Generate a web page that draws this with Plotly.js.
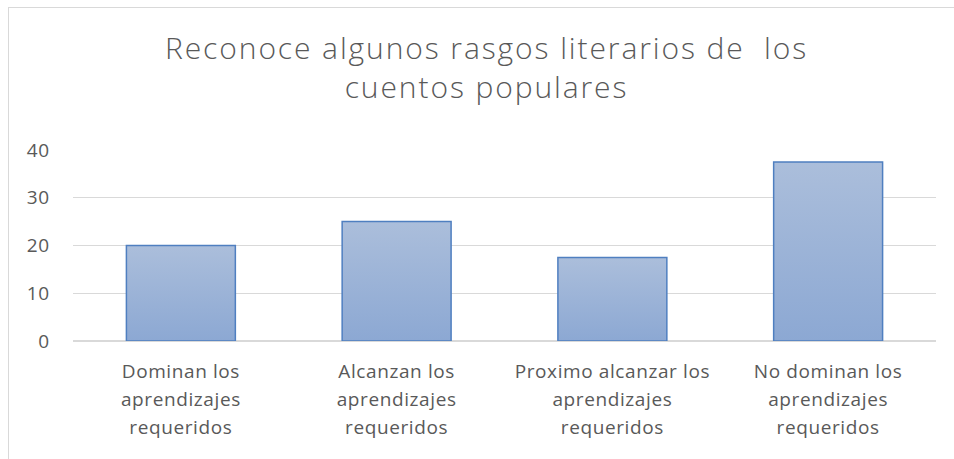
<!DOCTYPE html>
<html><head><meta charset="utf-8">
<script src="https://cdn.plot.ly/plotly-3.0.1.min.js"></script>
<style>
html,body{margin:0;padding:0;background:#fff;}
#frame{position:absolute;left:8px;top:7px;width:960px;height:470px;border-left:1.5px solid #d9d9d9;border-top:1.5px solid #d9d9d9;}
#chart{position:absolute;left:0;top:0;width:954px;height:459px;}
</style></head>
<body>
<div id="frame"></div>
<div id="chart"></div>
<script>
const categories = [
  "Dominan los<br>aprendizajes<br>requeridos",
  "Alcanzan los<br>aprendizajes<br>requeridos",
  "Proximo alcanzar los<br>aprendizajes<br>requeridos",
  "No dominan los<br>aprendizajes<br>requeridos"
];
const values = [20, 25, 17.5, 37.5];
const yTicks = [0, 10, 20, 30, 40];
const titleText = "Reconoce algunos rasgos literarios de  los<br>cuentos populares";

const font = "'Open Sans', Lato, 'Liberation Sans', sans-serif";
const trace = {
  type: "bar",
  x: categories,
  y: values,
  width: 0.505,
  marker: {color: "#9cb3d8", line: {color: "#4f7fc0", width: 1.5}},
  hoverinfo: "none"
};
const layout = {
  width: 954, height: 459,
  paper_bgcolor: "rgba(0,0,0,0)", plot_bgcolor: "rgba(0,0,0,0)",
  margin: {l: 73, r: 18, t: 150, b: 118},
  showlegend: false,
  title: {text: titleText, x: 0.51, xanchor: "center", xref: "container",
          y: 0.872, yanchor: "top", yref: "container",
          font: {family: font, size: 30, weight: 300, color: "#595959"}},
  xaxis: {tickfont: {family: font, size: 19, color: "#595959"}, showgrid: false,
          showline: false, ticks: "", ticklabelstandoff: 17},
  yaxis: {range: [0, 40], tickvals: yTicks, ticktext: yTicks.map(String),
          tickfont: {family: font, size: 19, color: "#595959"},
          gridcolor: "#d9d9d9", gridwidth: 1.3, zeroline: true, zerolinecolor: "#d9d9d9",
          zerolinewidth: 1.3, showline: false, ticks: "", ticklabelstandoff: 22}
};
function scaleLines(nodes, factor){
  nodes.forEach(function(t){
    const dy = t.getAttribute("dy");
    if (dy && /em$/.test(dy)) {
      const v = parseFloat(dy);
      if (v !== 0) t.setAttribute("dy", (v * factor).toFixed(3) + "em");
    }
  });
}
Plotly.newPlot("chart", [trace], layout, {staticPlot: true, displayModeBar: false}).then(function(gd){
  const svg = gd.querySelector("svg.main-svg");
  const ns = "http://www.w3.org/2000/svg";
  let defs = svg.querySelector("defs");
  if (!defs) { defs = document.createElementNS(ns, "defs"); svg.insertBefore(defs, svg.firstChild); }
  const g = document.createElementNS(ns, "linearGradient");
  g.setAttribute("id", "barGrad"); g.setAttribute("x1", "0"); g.setAttribute("y1", "0");
  g.setAttribute("x2", "0"); g.setAttribute("y2", "1");
  [["0", "#abbedb"], ["1", "#8ca8d3"]].forEach(function(s){
    const st = document.createElementNS(ns, "stop");
    st.setAttribute("offset", s[0]); st.setAttribute("stop-color", s[1]);
    g.appendChild(st);
  });
  defs.appendChild(g);
  gd.querySelectorAll(".bars .point path").forEach(function(p){
    p.style.fill = "url(#barGrad)";
  });
  scaleLines(gd.querySelectorAll(".xtick text tspan.line"), 1.48 / 1.3);
  gd.querySelectorAll(".xtick text").forEach(function(t){ t.style.letterSpacing = "0.6px"; });
  gd.querySelectorAll(".ytick text").forEach(function(t){ t.style.letterSpacing = "0.8px"; });
  gd.querySelectorAll(".gtitle").forEach(function(t){ t.style.letterSpacing = "1.9px"; });
});
</script>
</body></html>
